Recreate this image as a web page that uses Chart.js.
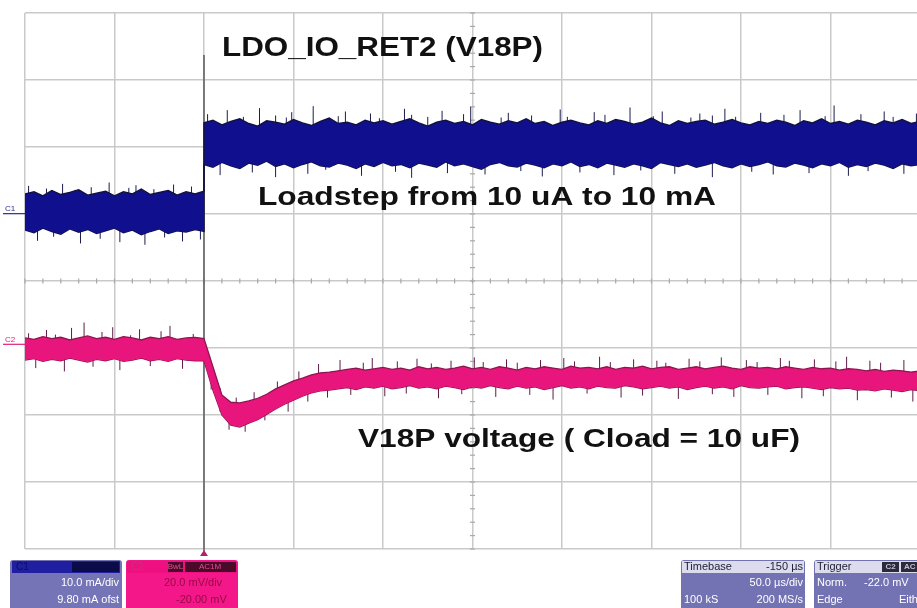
<!DOCTYPE html>
<html><head><meta charset="utf-8">
<script src="https://cdn.jsdelivr.net/npm/chart.js@4/dist/chart.umd.min.js"></script>
<style>
html,body{margin:0;padding:0;background:#fff;overflow:hidden;width:917px;height:608px}
#wrap{position:absolute;left:0;top:0;width:930px;height:608px}
</style></head><body>
<div id="wrap"><canvas id="c" width="930" height="608"></canvas></div>
<script>
// time base (µs), 0 = trigger / load step; 0 listed twice for the vertical step
const timeUs = [-100,-95,-90,-85,-80,-75,-70,-65,-60,-55,-50,-45,-40,-35,-30,-25,-20,-15,-10,-5,0,0,5,10,15,20,25,30,35,40,45,50,55,60,65,70,75,80,85,90,95,100,105,110,115,120,125,130,135,140,145,150,155,160,165,170,175,180,185,190,195,200,205,210,215,220,225,230,235,240,245,250,255,260,265,270,275,280,285,290,295,300,305,310,315,320,325,330,335,340,345,350,355,360,365,370,375,380,385,390,395,400];

// C1 (load current) dense band, screen divisions
const c1Upper = [1.30,1.33,1.27,1.35,1.29,1.32,1.36,1.28,1.31,1.34,1.27,1.33,1.30,1.37,1.29,1.32,1.35,1.28,1.33,1.30,1.34,
 2.36,2.40,2.33,2.38,2.42,2.35,2.31,2.39,2.37,2.34,2.41,2.36,2.32,2.38,2.43,2.35,2.37,2.33,2.40,2.36,
 2.39,2.34,2.38,2.42,2.36,2.31,2.37,2.40,2.35,2.38,2.33,2.41,2.37,2.34,2.39,2.36,2.42,2.35,2.38,2.32,
 2.37,2.40,2.36,2.33,2.39,2.35,2.41,2.38,2.34,2.37,2.43,2.36,2.32,2.39,2.35,2.38,2.40,2.34,2.37,2.41,
 2.36,2.33,2.38,2.35,2.40,2.37,2.32,2.39,2.36,2.42,2.35,2.38,2.34,2.40,2.37,2.33,2.39,2.36,2.41,2.35,2.38];
const c1Lower = [0.76,0.72,0.79,0.74,0.70,0.78,0.73,0.77,0.71,0.75,0.79,0.72,0.76,0.69,0.74,0.78,0.71,0.75,0.73,0.77,0.74,
 1.74,1.70,1.77,1.72,1.68,1.76,1.73,1.79,1.71,1.75,1.69,1.74,1.78,1.72,1.70,1.76,1.73,1.68,1.75,1.71,
 1.77,1.72,1.74,1.69,1.76,1.73,1.70,1.78,1.72,1.75,1.71,1.67,1.74,1.77,1.72,1.70,1.76,1.73,1.69,1.75,
 1.72,1.78,1.71,1.74,1.69,1.76,1.73,1.70,1.75,1.72,1.68,1.77,1.74,1.71,1.75,1.70,1.73,1.77,1.72,1.69,
 1.75,1.71,1.74,1.78,1.72,1.70,1.76,1.73,1.69,1.75,1.72,1.77,1.70,1.74,1.71,1.76,1.73,1.68,1.75,1.72,1.74];

// C2 (V18P voltage) dense band, screen divisions
const c2Upper = [-0.85,-0.87,-0.83,-0.86,-0.84,-0.88,-0.85,-0.82,-0.86,-0.84,-0.87,-0.83,-0.85,-0.88,-0.84,-0.86,-0.83,-0.87,-0.85,-0.84,
 -0.86,-0.86,
 -1.28,-1.70,-1.81,-1.82,-1.79,-1.75,-1.69,-1.61,-1.55,-1.49,-1.45,-1.40,-1.37,-1.36,
 -1.34,-1.32,-1.30,-1.33,-1.31,-1.29,-1.32,-1.30,-1.33,-1.28,-1.31,-1.29,-1.32,-1.30,-1.27,-1.31,-1.29,-1.32,-1.28,-1.30,
 -1.33,-1.29,-1.31,-1.28,-1.30,-1.32,-1.27,-1.30,-1.29,-1.31,-1.28,-1.32,-1.29,-1.30,-1.27,-1.31,-1.29,-1.28,-1.32,-1.30,
 -1.28,-1.31,-1.29,-1.27,-1.30,-1.32,-1.28,-1.30,-1.29,-1.31,-1.28,-1.30,-1.32,-1.29,-1.31,-1.30,-1.33,-1.31,-1.32,-1.34,
 -1.32,-1.35,-1.33,-1.34,-1.36,-1.34];
const c2Lower = [-1.18,-1.16,-1.20,-1.17,-1.19,-1.15,-1.18,-1.21,-1.17,-1.19,-1.16,-1.20,-1.18,-1.15,-1.19,-1.17,-1.20,-1.16,-1.18,-1.19,
 -1.19,-1.19,
 -1.63,-2.00,-2.15,-2.18,-2.12,-2.07,-1.99,-1.91,-1.84,-1.78,-1.72,-1.67,-1.64,-1.63,
 -1.61,-1.59,-1.62,-1.58,-1.60,-1.57,-1.61,-1.59,-1.56,-1.60,-1.58,-1.61,-1.57,-1.59,-1.62,-1.58,-1.60,-1.56,-1.59,-1.61,
 -1.57,-1.60,-1.58,-1.62,-1.59,-1.56,-1.60,-1.58,-1.61,-1.57,-1.59,-1.60,-1.56,-1.58,-1.61,-1.59,-1.57,-1.60,-1.58,-1.62,
 -1.59,-1.57,-1.60,-1.58,-1.61,-1.56,-1.59,-1.60,-1.58,-1.57,-1.61,-1.59,-1.58,-1.60,-1.62,-1.59,-1.61,-1.60,-1.63,-1.62,
 -1.64,-1.61,-1.63,-1.65,-1.62,-1.64];

// noise spikes: time, min, max (divisions)
const c1SpikeT = [-98,-93,-88,-84,-79,-72,-69,-63,-58,-53,-47,-42,-38,-33,-28,-22,-17,-12,-7,-2,
 2,9,13,22,27,31,40,46,49,58,61,68,75,79,88,93,98,107,112,116,125,133,136,145,149,157,166,170,177,183,
 189,199,203,210,218,224,229,238,244,251,256,263,272,277,284,291,297,306,311,318,324,333,338,347,352,360,367,371,380,385,391,398];
const c1SpikeMin = [1.0,0.60,1.0,0.66,1.0,1.0,0.56,1.0,0.63,1.0,0.58,1.0,1.0,0.54,1.0,0.65,1.0,0.59,1.0,0.62,
 2.0,1.58,2.0,2.0,1.62,2.0,1.55,2.0,2.0,1.60,2.0,1.66,2.0,2.0,1.57,2.0,2.0,1.63,2.0,1.54,
 2.0,2.0,1.61,2.0,2.0,1.59,2.0,2.0,1.64,2.0,1.56,2.0,2.0,1.62,2.0,2.0,1.58,2.0,1.65,2.0,
 2.0,1.60,2.0,2.0,1.55,2.0,2.0,1.63,2.0,1.59,2.0,2.0,1.61,2.0,2.0,1.57,2.0,1.64,2.0,2.0,1.60,2.0];
const c1SpikeMax = [1.42,1.1,1.38,1.1,1.45,1.36,1.1,1.40,1.1,1.47,1.1,1.39,1.43,1.1,1.37,1.1,1.44,1.1,1.41,1.1,
 2.49,2.1,2.55,2.45,2.1,2.58,2.47,2.44,2.52,2.1,2.61,2.1,2.46,2.53,2.1,2.50,2.43,2.1,2.57,2.48,
 2.45,2.54,2.1,2.49,2.60,2.1,2.44,2.51,2.1,2.47,2.1,2.56,2.45,2.1,2.52,2.48,2.1,2.59,2.1,2.46,
 2.53,2.1,2.44,2.50,2.47,2.57,2.45,2.1,2.51,2.1,2.48,2.55,2.1,2.46,2.62,2.1,2.49,2.1,2.53,2.45,2.1,2.50];
const c2SpikeT = [-98,-94,-88,-83,-78,-74,-67,-62,-57,-51,-47,-41,-36,-30,-24,-19,-12,-6,
 4,9,14,18,23,28,34,41,47,53,58,64,69,76,82,89,94,101,108,113,119,127,131,138,144,151,156,163,169,175,
 182,188,195,201,207,214,221,227,233,240,245,253,258,265,271,277,284,289,296,303,309,315,322,327,334,341,346,353,359,365,372,378,384,391,396];
const c2SpikeMin = [-1.0,-1.30,-1.0,-1.0,-1.35,-1.0,-1.0,-1.28,-1.0,-1.0,-1.33,-1.0,-1.0,-1.27,-1.0,-1.0,-1.31,-1.0,
 -1.62,-1.95,-2.22,-2.0,-2.25,-1.92,-2.08,-1.76,-1.95,-1.60,-1.80,-1.51,-1.74,-1.45,-1.70,-1.45,-1.45,-1.72,-1.45,-1.68,
 -1.45,-1.45,-1.75,-1.45,-1.69,-1.45,-1.45,-1.73,-1.45,-1.45,-1.70,-1.45,-1.77,-1.45,-1.45,-1.68,-1.45,-1.45,-1.74,-1.45,
 -1.71,-1.45,-1.45,-1.76,-1.45,-1.45,-1.69,-1.45,-1.73,-1.45,-1.45,-1.70,-1.45,-1.45,-1.75,-1.45,-1.72,-1.45,-1.45,-1.78,
 -1.45,-1.46,-1.74,-1.47,-1.80];
const c2SpikeMax = [-0.78,-0.95,-0.73,-0.80,-0.95,-0.70,-0.62,-0.95,-0.76,-0.69,-0.95,-0.81,-0.72,-0.95,-0.75,-0.67,-0.95,-0.79,
 -1.30,-1.60,-1.80,-1.74,-1.97,-1.66,-1.85,-1.50,-1.68,-1.35,-1.55,-1.24,-1.49,-1.18,-1.45,-1.22,-1.15,-1.45,-1.20,-1.45,
 -1.16,-1.23,-1.45,-1.19,-1.45,-1.14,-1.21,-1.45,-1.17,-1.22,-1.45,-1.18,-1.45,-1.15,-1.20,-1.45,-1.13,-1.21,-1.45,-1.17,
 -1.45,-1.19,-1.22,-1.45,-1.16,-1.20,-1.45,-1.14,-1.45,-1.18,-1.21,-1.45,-1.15,-1.19,-1.45,-1.17,-1.45,-1.20,-1.13,-1.45,
 -1.19,-1.22,-1.47,-1.18,-1.47];

// axis grid
const timeGridStep = 50;   // µs/div
const timeMin = -100, timeMax = 400;
const divMin = -4, divMax = 4;

// texts
const titleText = 'LDO_IO_RET2 (V18P)';
const loadText = 'Loadstep from 10 uA to 10 mA';
const voltText = 'V18P voltage ( Cload = 10 uF)';

const band = ys => timeUs.map((t, i) => ({x: t, y: ys[i]}));
function spikes(ts, lo, hi) {
  const out = [];
  ts.forEach((t, i) => { out.push({x: t, y: lo[i]}, {x: t, y: hi[i]}, {x: t, y: null}); });
  return out;
}

const FONT = '"Liberation Sans", Arial, sans-serif';
function fitText(ctx, s, x, yb, w, size, color) {
  ctx.save();
  ctx.font = 'bold ' + size + 'px ' + FONT;
  ctx.fillStyle = color || '#111';
  ctx.textBaseline = 'alphabetic';
  ctx.textAlign = 'left';
  const m = ctx.measureText(s).width;
  ctx.translate(x, yb);
  ctx.scale(w / m, 1);
  ctx.fillText(s, 0, 0);
  ctx.restore();
}
function rr(ctx, x, y, w, h, r) {
  ctx.beginPath();
  ctx.moveTo(x + r, y); ctx.lineTo(x + w - r, y); ctx.quadraticCurveTo(x + w, y, x + w, y + r);
  ctx.lineTo(x + w, y + h); ctx.lineTo(x, y + h); ctx.lineTo(x, y + r); ctx.quadraticCurveTo(x, y, x + r, y);
  ctx.closePath();
}
function txt(ctx, s, x, y, align, color, size, bold) {
  ctx.font = (bold ? 'bold ' : '') + (size || 11) + 'px ' + FONT;
  ctx.fillStyle = color; ctx.textAlign = align; ctx.textBaseline = 'middle';
  ctx.fillText(s, x, y);
}

const overlay = {
  id: 'overlay',
  beforeDraw(chart) {
    const c = chart.ctx; c.save(); c.fillStyle = '#fff'; c.fillRect(0, 0, chart.width, chart.height); c.restore();
  },
  beforeDatasetsDraw(chart) {
    const {ctx, chartArea: a, scales: {x, y}} = chart;
    ctx.save();
    ctx.strokeStyle = '#a9a9a9'; ctx.lineWidth = 1.2;
    const y0 = y.getPixelForValue(0), xc = x.getPixelForValue(150);
    for (let t = timeMin; t <= timeMax; t += 10) {
      const px = x.getPixelForValue(t);
      ctx.beginPath(); ctx.moveTo(px, y0 - 2.5); ctx.lineTo(px, y0 + 2.5); ctx.stroke();
    }
    for (let v = divMin; v <= divMax + 0.001; v += 0.2) {
      const py = y.getPixelForValue(v);
      ctx.beginPath(); ctx.moveTo(xc - 2.5, py); ctx.lineTo(xc + 2.5, py); ctx.stroke();
    }
    const xt = x.getPixelForValue(0);
    ctx.strokeStyle = '#5a5a5a'; ctx.lineWidth = 1.5;
    ctx.beginPath(); ctx.moveTo(xt, 55); ctx.lineTo(xt, a.bottom + 2); ctx.stroke();
    ctx.restore();
  },
  afterDatasetsDraw(chart) {
    const {ctx, chartArea: a, scales: {x, y}} = chart;
    ctx.save();
    const xt = x.getPixelForValue(0);
    ctx.fillStyle = '#b2226e';
    ctx.beginPath(); ctx.moveTo(xt, a.bottom + 1); ctx.lineTo(xt + 4, a.bottom + 7); ctx.lineTo(xt - 4, a.bottom + 7); ctx.closePath(); ctx.fill();
    const y1 = y.getPixelForValue(1.02), y2 = y.getPixelForValue(-0.93);
    ctx.lineWidth = 1.2;
    ctx.strokeStyle = '#2a2a9a'; ctx.beginPath(); ctx.moveTo(3, y1 + 1); ctx.lineTo(a.left, y1 + 1); ctx.stroke();
    txt(ctx, 'C1', 5, y1 - 4, 'left', '#2a2a9a', 8);
    ctx.strokeStyle = '#e0207e'; ctx.beginPath(); ctx.moveTo(3, y2 + 1); ctx.lineTo(a.left, y2 + 1); ctx.stroke();
    txt(ctx, 'C2', 5, y2 - 4, 'left', '#e0207e', 8);
    fitText(ctx, titleText, 222, 56, 321, 27);
    fitText(ctx, loadText, 258, 205, 458, 25);
    fitText(ctx, voltText, 358, 447, 442, 26);

    // C1 box
    rr(ctx, 10, 560, 112, 52, 3); ctx.fillStyle = '#7474b6'; ctx.fill();
    ctx.fillStyle = '#1f1fa0'; ctx.fillRect(12, 561, 108, 12);
    ctx.fillStyle = '#0b0b4a'; ctx.fillRect(72, 562, 47, 10);
    txt(ctx, 'C1', 16, 567, 'left', '#0d0d60', 10);
    txt(ctx, '10.0 mA/div', 119, 583, 'right', '#ffffff', 11);
    txt(ctx, '9.80 mA ofst', 119, 600, 'right', '#ffffff', 11);
    // C2 box
    ctx.save();
    rr(ctx, 126, 560, 112, 52, 3); ctx.fillStyle = '#f4178a'; ctx.fill(); ctx.clip();
    ctx.fillStyle = '#ee0f80'; ctx.fillRect(127, 561, 110, 12);
    txt(ctx, 'C2', 131, 567, 'left', '#c8337a', 10);
    ctx.fillStyle = '#4a0b2a'; ctx.fillRect(168, 562, 15, 10); ctx.fillRect(185, 562, 51, 10);
    txt(ctx, 'BwL', 175.5, 567, 'center', '#e0508e', 8);
    txt(ctx, 'AC1M', 210, 567, 'center', '#e0508e', 8);
    txt(ctx, '20.0 mV/div', 164, 583, 'left', '#9a0a44', 11);
    txt(ctx, '-20.00 mV', 176, 600, 'left', '#9a0a44', 11);
    ctx.restore();
    // Timebase box
    ctx.save();
    rr(ctx, 681, 560, 124, 52, 3); ctx.fillStyle = '#7373b3'; ctx.fill(); ctx.clip();
    ctx.fillStyle = '#dcdcee'; ctx.fillRect(682, 561, 122, 12);
    txt(ctx, 'Timebase', 684, 567, 'left', '#222238', 11);
    txt(ctx, '-150 µs', 803, 567, 'right', '#222238', 11);
    txt(ctx, '50.0 µs/div', 803, 583, 'right', '#ffffff', 11);
    txt(ctx, '100 kS', 684, 600, 'left', '#ffffff', 11);
    txt(ctx, '200 MS/s', 803, 600, 'right', '#ffffff', 11);
    ctx.restore();
    // Trigger box
    rr(ctx, 814, 560, 120, 52, 3); ctx.fillStyle = '#7373b3'; ctx.fill();
    ctx.fillStyle = '#dcdcee'; ctx.fillRect(815, 561, 118, 12);
    txt(ctx, 'Trigger', 817, 567, 'left', '#222238', 11);
    ctx.fillStyle = '#2a2a3a'; ctx.fillRect(882, 562, 17, 10); ctx.fillRect(901, 562, 20, 10);
    txt(ctx, 'C2', 890.5, 567, 'center', '#c0c0d0', 8, true);
    txt(ctx, 'AC', 904, 567, 'left', '#c0c0d0', 8, true);
    txt(ctx, 'Norm.', 817, 583, 'left', '#ffffff', 11);
    txt(ctx, '-22.0 mV', 864, 583, 'left', '#ffffff', 11);
    txt(ctx, 'Edge', 817, 600, 'left', '#ffffff', 11);
    txt(ctx, 'Either', 899, 600, 'left', '#ffffff', 11);
    ctx.restore();
  }
};

const gridOpts = {color: '#c9c9c9', lineWidth: 1.5, drawTicks: false};
new Chart(document.getElementById('c'), {
  type: 'line',
  data: {
    datasets: [
      {label: 'C1 upper', data: band(c1Upper), borderColor: '#121240', borderWidth: 1.5, backgroundColor: '#10108e', fill: '+1', pointRadius: 0, tension: 0, order: 1},
      {label: 'C1 lower', data: band(c1Lower), borderColor: '#121240', borderWidth: 1.5, fill: false, pointRadius: 0, tension: 0, order: 1},
      {label: 'C1 spikes', data: spikes(c1SpikeT, c1SpikeMin, c1SpikeMax), borderColor: '#1c1c50', borderWidth: 1, fill: false, pointRadius: 0, order: 3},
      {label: 'C2 upper', data: band(c2Upper), borderColor: '#8e1650', borderWidth: 1.3, backgroundColor: '#e8167c', fill: '+1', pointRadius: 0, tension: 0, order: 1},
      {label: 'C2 lower', data: band(c2Lower), borderColor: '#8e1650', borderWidth: 1.3, fill: false, pointRadius: 0, tension: 0, order: 1},
      {label: 'C2 spikes', data: spikes(c2SpikeT, c2SpikeMin, c2SpikeMax), borderColor: '#5e1c48', borderWidth: 1, fill: false, pointRadius: 0, order: 3}
    ]
  },
  options: {
    responsive: false, animation: false, devicePixelRatio: 1,
    layout: {padding: {left: 25, top: 13, right: 10, bottom: 59}},
    plugins: {legend: {display: false}, tooltip: {enabled: false}},
    scales: {
      x: {type: 'linear', min: timeMin, max: timeMax, ticks: {display: false, stepSize: timeGridStep}, grid: gridOpts, border: {display: false}},
      y: {type: 'linear', min: divMin, max: divMax, ticks: {display: false, stepSize: 1}, grid: gridOpts, border: {display: false}}
    }
  },
  plugins: [overlay]
});
</script>
</body></html>
